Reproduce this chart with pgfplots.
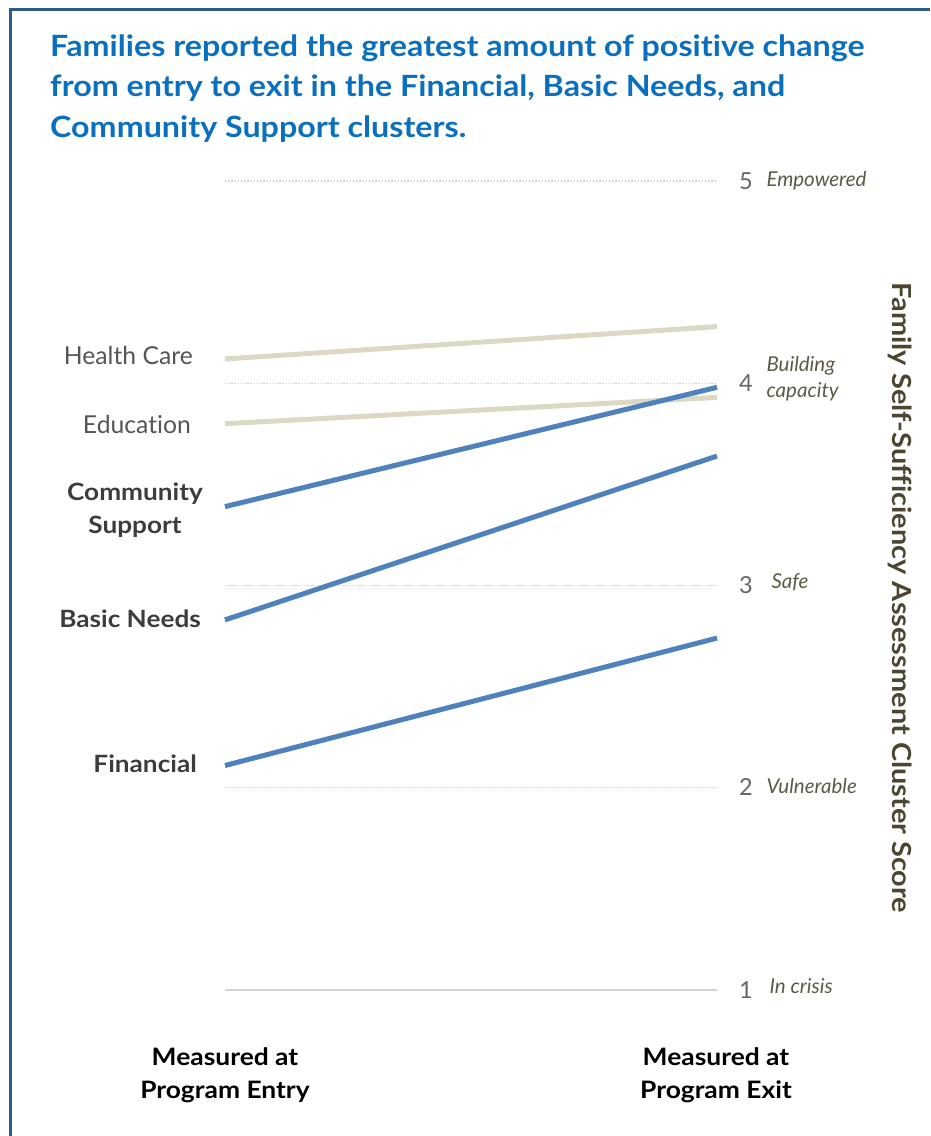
\documentclass[border=0pt]{standalone}
\usepackage{fontspec}
\setmainfont[Ligatures=NoCommon]{Lato}
\newfontfamily\wide[FakeStretch=1.1,Ligatures=NoCommon]{Lato}
\usepackage{pgfplots}
\pgfplotsset{compat=1.18}
\definecolor{titleblue}{HTML}{0B6FBF}
\definecolor{framecol}{HTML}{2E5A8E}
\definecolor{lineblue}{HTML}{4F81BD}
\definecolor{linebeige}{HTML}{DCD8C3}
\definecolor{gridgray}{HTML}{C8C8C8}
\definecolor{tickgray}{HTML}{666666}
\definecolor{olivetext}{HTML}{5C5946}
\definecolor{axislab}{HTML}{4B4631}
\definecolor{labgray}{HTML}{555555}
\definecolor{labdark}{HTML}{3C3C3C}
\begin{document}
\begin{tikzpicture}[x=1pt,y=1pt]
\useasboundingbox (0,0) rectangle (930,1136);
\draw[framecol, line width=3] (10.5,0) -- (10.5,1126.5) -- (930,1126.5);
% title
\node[anchor=base west, inner sep=0, text=titleblue, font=\wide\fontsize{29.3}{34}\selectfont\bfseries] at (50,1136-57) {Families reported the greatest amount of positive change};
\node[anchor=base west, inner sep=0, text=titleblue, font=\wide\fontsize{29.3}{34}\selectfont\bfseries] at (50,1136-97) {from entry to exit in the Financial, Basic Needs, and};
\node[anchor=base west, inner sep=0, text=titleblue, font=\wide\fontsize{29.3}{34}\selectfont\bfseries] at (50,1136-138) {Community Support clusters.};
\begin{axis}[
  at={(225pt,146pt)}, anchor=south west,
  scale only axis, width=492pt, height=809pt,
  xmin=0, xmax=1, ymin=1, ymax=5,
  axis lines=none, clip=false,
]
\foreach \v in {2,3,4,5}{
  \edef\tmp{\noexpand\draw[gridgray, line width=1.2pt, dotted] (axis cs:0,\v) -- (axis cs:1,\v);}
  \tmp
}
\draw[gridgray!80, line width=1.5pt] (axis cs:0,1) -- (axis cs:1,1);
\addplot[linebeige, line width=5pt] coordinates {(0,4.12) (1,4.28)};
\addplot[linebeige, line width=5pt] coordinates {(0,3.80) (1,3.93)};
\addplot[lineblue, line width=5pt] coordinates {(0,3.39) (1,3.98)};
\addplot[lineblue, line width=5pt] coordinates {(0,2.83) (1,3.64)};
\addplot[lineblue, line width=5pt] coordinates {(0,2.11) (1,2.74)};
\end{axis}
% y tick numbers
\foreach \v/\yy in {5/181,4/383,3/585,2/787,1/990}{
  \node[text=tickgray, font=\fontsize{23.5}{26}\selectfont] at (746,1136-\yy) {\v};
}
\node[anchor=west, text=olivetext, font=\fontsize{20.5}{26}\selectfont\itshape] at (763,1136-181) {Empowered};
\node[anchor=west, text=olivetext, font=\fontsize{20.5}{26}\selectfont\itshape, align=left] at (763,1136-379) {Building\\capacity};
\node[anchor=west, text=olivetext, font=\fontsize{20.5}{26}\selectfont\itshape] at (768,1136-582) {Safe};
\node[anchor=west, text=olivetext, font=\fontsize{20.5}{26}\selectfont\itshape] at (763,1136-786) {Vulnerable};
\node[anchor=west, text=olivetext, font=\fontsize{20.5}{26}\selectfont\itshape] at (766,1136-986) {In crisis};
% axis label
\node[rotate=-90, text=axislab, font=\wide\fontsize{26.3}{30}\selectfont\bfseries] at (900,1136-598) {Family Self-Sufficiency Assessment Cluster Score};
% left labels
\node[anchor=east, inner sep=0, text=labgray, font=\fontsize{24.7}{28}\selectfont] at (193,1136-356) {Health Care};
\node[anchor=east, inner sep=0, text=labgray, font=\fontsize{24.7}{28}\selectfont] at (191,1136-425) {Education};
\node[align=center, inner sep=0, text=labdark, font=\wide\fontsize{23.8}{33}\selectfont\bfseries] at (135,1136-510) {Community\\Support};
\node[anchor=east, inner sep=0, text=labdark, font=\wide\fontsize{23.8}{28}\selectfont\bfseries] at (201,1136-619) {Basic Needs};
\node[anchor=east, inner sep=0, text=labdark, font=\wide\fontsize{23.8}{28}\selectfont\bfseries] at (197,1136-764) {Financial};
% bottom labels
\node[align=center, inner sep=0, text=black, font=\wide\fontsize{24}{33}\selectfont\bfseries] at (225,1136-1075) {Measured at\\Program Entry};
\node[align=center, inner sep=0, text=black, font=\wide\fontsize{24}{33}\selectfont\bfseries] at (716,1136-1075) {Measured at\\Program Exit};
\end{tikzpicture}
\end{document}
